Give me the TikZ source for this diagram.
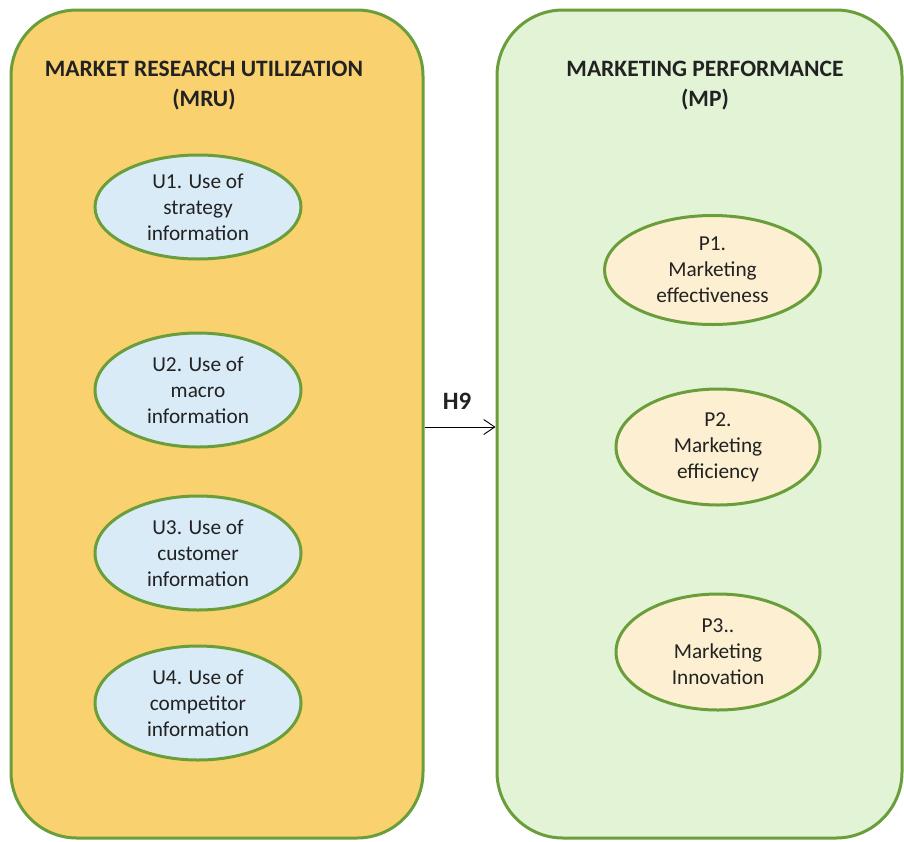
\documentclass[tikz,border=0pt]{standalone}
\usepackage{fontspec}
\setmainfont{Carlito}
\usetikzlibrary{shapes.geometric,arrows.meta}
\definecolor{edgegreen}{HTML}{6A9E3A}
\definecolor{mrufill}{HTML}{FAD16F}
\definecolor{mpfill}{HTML}{E2F3D6}
\definecolor{ufill}{HTML}{DAEBF8}
\definecolor{pfill}{HTML}{FDF0D2}
\definecolor{ink}{HTML}{222222}
\begin{document}
\begin{tikzpicture}[x=1pt,y=-1pt,
  panel/.style={draw=edgegreen, line width=3pt, rounded corners=66pt, inner sep=0pt},
  uell/.style={ellipse, draw=edgegreen, line width=3pt, fill=ufill, inner sep=0pt},
  pell/.style={ellipse, draw=edgegreen, line width=3pt, fill=pfill, inner sep=0pt},
  etext/.style={align=center, font=\fontsize{21.3}{26}\selectfont, text=ink},
  ttl/.style={align=center, font=\fontsize{23.5}{30}\selectfont\bfseries, text=ink}]
\useasboundingbox (0,0) rectangle (904,841);
\fill[white] (0,0) rectangle (904,841);
% panels
\node[panel, fill=mrufill, minimum width=412pt, minimum height=828pt] (mru) at (217,424) {};
\node[panel, fill=mpfill, minimum width=405pt, minimum height=828pt] (mp) at (699.5,424) {};
% titles
\node[ttl] (mrut) at (204,86) {MARKET RESEARCH UTILIZATION\\(MRU)};
\node[ttl] (mpt) at (705,86) {MARKETING PERFORMANCE\\(MP)};
% left ellipses
\node[uell, minimum width=206pt, minimum height=104pt,
  label={[etext]center:U1. Use of\\strategy\\information}] (u1) at (198,207) {};
\node[uell, minimum width=206pt, minimum height=114pt,
  label={[etext]center:U2. Use of\\macro\\information}] (u2) at (198,390) {};
\node[uell, minimum width=206pt, minimum height=114pt,
  label={[etext]center:U3. Use of\\customer\\information}] (u3) at (198,553) {};
\node[uell, minimum width=206pt, minimum height=114pt,
  label={[etext]center:U4. Use of\\competitor\\information}] (u4) at (198,703) {};
% right ellipses
\node[pell, minimum width=216pt, minimum height=109pt,
  label={[etext]center:P1.\\Marketing\\effectiveness}] (p1) at (712.5,270) {};
\node[pell, minimum width=204pt, minimum height=116pt,
  label={[etext]center:P2.\\Marketing\\efficiency}] (p2) at (718,447) {};
\node[pell, minimum width=204pt, minimum height=116pt,
  label={[etext]center:P3..\\Marketing\\Innovation}] (p3) at (718,652) {};
% relation
\node[font=\fontsize{25}{28}\selectfont\bfseries, text=ink] (h9) at (457,401) {H9};
\coordinate (ay) at (460,427);
\draw[line width=0.9pt, -{Straight Barb[length=11pt,width=15pt]}] (mru.east |- ay) -- (mp.west |- ay);
\end{tikzpicture}
\end{document}
